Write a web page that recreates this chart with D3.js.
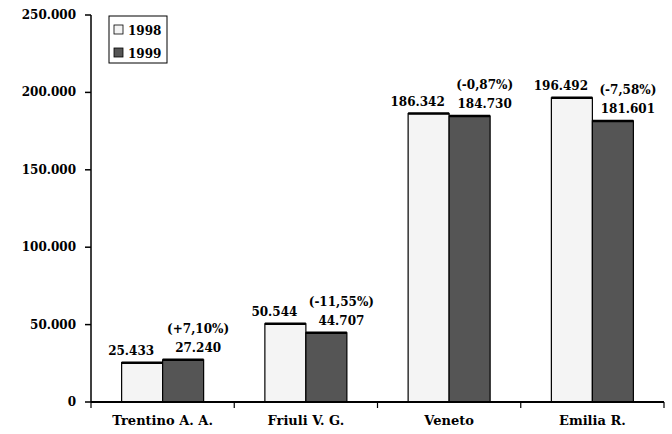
<!DOCTYPE html>
<html>
<head>
<meta charset="utf-8">
<script src="https://cdn.jsdelivr.net/npm/d3@7"></script>
<style>
body { margin: 0; background: #fff; }
text { font-family: "DejaVu Serif", serif; font-weight: bold; font-size: 12px; fill: #000; }
text.cat { font-size: 13px; }
</style>
</head>
<body>
<div id="chart-area"></div>
<script>
var regions = ['Trentino A. A.', 'Friuli V. G.', 'Veneto', 'Emilia R.'];
var values1998 = [25433, 50544, 186342, 196492];
var values1999 = [27240, 44707, 184730, 181601];
var changes = ['(+7,10%)', '(-11,55%)', '(-0,87%)', '(-7,58%)'];
var yTicks = [0, 50000, 100000, 150000, 200000, 250000];
var years = ['1998', '1999'];
var colors = ['#f4f4f4', '#555555'];

var fmt = d3.formatLocale({decimal: ',', thousands: '.', grouping: [3], currency: ['', '']}).format(',d');

var svg = d3.select('#chart-area').append('svg')
    .attr('width', 672)
    .attr('height', 434)

var plotLeft = 91, plotRight = 664, plotTop = 15, plotBottom = 402;

var y = d3.scaleLinear()
    .domain([0, 250000])
    .range([plotBottom, plotTop])

var x = d3.scaleBand()
    .domain(regions)
    .range([plotLeft, plotRight])

var inner = d3.scaleBand()
    .domain(years)
    .range([0, 82])

var offset = (x.bandwidth() - 82) / 2;
// labels spread apart from the bar centres
var labelShift = [-11, 15];

// y axis
svg.append('line')
    .attr('x1', plotLeft).attr('x2', plotLeft)
    .attr('y1', plotTop).attr('y2', plotBottom)
    .attr('stroke', '#000').attr('stroke-width', 1.5)

svg.selectAll('.ytick')
    .data(yTicks)
    .enter()
    .append('line')
    .attr('x1', plotLeft - 6).attr('x2', plotLeft)
    .attr('y1', (d) => y(d)).attr('y2', (d) => y(d))
    .attr('stroke', '#000').attr('stroke-width', 1.5)

svg.selectAll('.ylabel')
    .data(yTicks)
    .enter()
    .append('text')
    .attr('x', plotLeft - 15)
    .attr('y', (d) => y(d) + 4)
    .attr('text-anchor', 'end')
    .text((d) => fmt(d))

// bars
var groups = svg.selectAll('.grp')
    .data(regions)
    .enter()
    .append('g')
    .attr('transform', (d) => 'translate(' + (x(d) + offset) + ',0)')

var series = [values1998, values1999];
years.forEach((yr, k) => {
    groups.append('rect')
        .attr('x', inner(yr))
        .attr('y', (d, i) => y(series[k][i]))
        .attr('width', inner.bandwidth())
        .attr('height', (d, i) => plotBottom - y(series[k][i]))
        .attr('fill', colors[k])
        .attr('stroke', '#000')
        .attr('stroke-width', 1.2)
    groups.append('line')
        .attr('x1', inner(yr)).attr('x2', inner(yr) + inner.bandwidth())
        .attr('y1', (d, i) => y(series[k][i])).attr('y2', (d, i) => y(series[k][i]))
        .attr('stroke', '#000').attr('stroke-width', 2.5)
    groups.append('text')
        .attr('x', inner(yr) + inner.bandwidth() / 2 + labelShift[k])
        .attr('y', (d, i) => y(series[k][i]) - 8)
        .attr('text-anchor', 'middle')
        .text((d, i) => fmt(series[k][i]))
})

groups.append('text')
    .attr('x', inner('1999') + inner.bandwidth() / 2 + labelShift[1])
    .attr('y', (d, i) => y(values1999[i]) - 27)
    .attr('text-anchor', 'middle')
    .text((d, i) => changes[i])

// x axis
svg.append('line')
    .attr('x1', plotLeft).attr('x2', plotRight)
    .attr('y1', plotBottom).attr('y2', plotBottom)
    .attr('stroke', '#000').attr('stroke-width', 2)

svg.selectAll('.xtick')
    .data(regions.concat(['end']))
    .enter()
    .append('line')
    .attr('x1', (d) => d == 'end' ? plotRight : x(d))
    .attr('x2', (d) => d == 'end' ? plotRight : x(d))
    .attr('y1', plotBottom).attr('y2', plotBottom + 6)
    .attr('stroke', '#000').attr('stroke-width', 1.2)

svg.selectAll('.xlabel')
    .data(regions)
    .enter()
    .append('text')
    .attr('class', 'cat')
    .attr('x', (d) => x(d) + x.bandwidth() / 2)
    .attr('y', 425)
    .attr('text-anchor', 'middle')
    .text((d) => d)

// legend
var legend = svg.append('g').attr('transform', 'translate(109,16)')
legend.append('rect')
    .attr('width', 58).attr('height', 47)
    .attr('fill', '#fff').attr('stroke', '#000').attr('stroke-width', 1)
years.forEach((yr, k) => {
    legend.append('rect')
        .attr('x', 5).attr('y', 9 + k * 23)
        .attr('width', 9).attr('height', 9)
        .attr('fill', colors[k]).attr('stroke', '#000').attr('stroke-width', 0.8)
    legend.append('text')
        .attr('x', 19).attr('y', 19 + k * 23)
        .text(yr)
})
</script>
</body>
</html>
